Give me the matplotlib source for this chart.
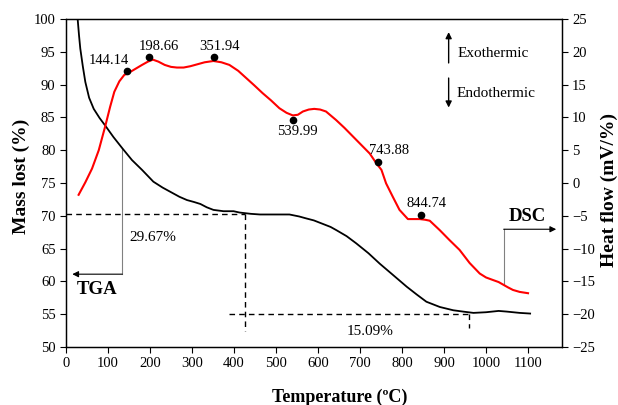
import numpy as np
import matplotlib.pyplot as plt

plt.rcParams['font.family'] = ['Liberation Serif', 'DejaVu Serif']

# TGA curve (left axis, mass %)
tga_temp = [26, 28, 31, 34, 40, 46, 55, 66, 80, 94, 113, 134, 157, 181, 208, 230, 250, 270, 288, 305,
            320, 335, 351, 375, 399, 413, 440, 462, 500, 532, 555, 572, 590, 610, 630, 644, 668,
            691, 720, 747, 780, 811, 835, 858, 890, 922, 945, 970, 1000, 1030, 1049, 1080, 1105]
tga_mass = [101.0, 99.8, 97.5, 95.5, 92.8, 90.4, 88.0, 86.3, 84.9, 83.7, 82.0, 80.3, 78.5, 77.0, 75.2, 74.3,
            73.6, 72.9, 72.4, 72.1, 71.8, 71.3, 70.9, 70.7, 70.7, 70.5, 70.3, 70.2, 70.2, 70.2, 69.9,
            69.6, 69.3, 68.8, 68.3, 67.8, 66.9, 65.8, 64.3, 62.7, 60.9, 59.2, 58.0, 56.9, 56.1, 55.6,
            55.4, 55.2, 55.3, 55.5, 55.4, 55.2, 55.1]

# DSC curve (right axis, heat flow)
dsc_temp = [30, 46, 62, 78, 94, 105, 115, 127, 139, 144, 160, 181, 195, 207, 220, 235, 250, 264, 280,
            296, 313, 330, 351, 370, 389, 410, 429, 448, 468, 488, 508, 525, 540, 552, 564, 578, 591,
            605, 619, 643, 663, 683, 703, 723, 739, 751, 762, 778, 794, 814, 828, 842, 855, 866,
            890, 913, 937, 961, 985, 1000, 1017, 1030, 1041, 1052, 1064, 1080, 1100]
dsc_heat = [-1.8, 0.1, 2.2, 5.0, 8.8, 11.6, 13.9, 15.5, 16.5, 16.6, 17.2, 18.0, 18.5, 18.8, 18.5, 18.0,
            17.7, 17.6, 17.6, 17.8, 18.1, 18.4, 18.6, 18.4, 18.0, 17.1, 16.0, 14.9, 13.7, 12.6, 11.4,
            10.7, 10.3, 10.4, 10.9, 11.2, 11.3, 11.2, 10.9, 9.6, 8.4, 7.1, 5.8, 4.5, 3.0, 2.0, -0.05,
            -2.1, -4.1, -5.5, -5.5, -5.5, -5.6, -5.75, -7.2, -8.7, -10.2, -12.2, -13.8, -14.4, -14.8,
            -15.1, -15.5, -15.9, -16.3, -16.6, -16.8]

# DSC peaks: marker position, label position
peak_labels = ['144.14', '198.66', '351.94', '539.99', '743.88', '844.74']
peak_t = [144.14, 198.66, 351.94, 539.99, 743.88, 844.74]
peak_h = [17.0, 19.2, 19.2, 9.6, 3.2, -4.9]
label_t = [101, 220, 365, 550, 768, 858]
label_h = [18.6, 20.8, 20.8, 7.9, 4.9, -3.2]

fig = plt.figure(figsize=(6.18, 4.05), dpi=100)
ax = fig.add_axes([0.1068, 0.1432, 0.802, 0.8099])
ax2 = ax.twinx()

ax.plot(tga_temp, tga_mass, color='black', lw=1.3, zorder=3)
ax2.plot(dsc_temp, dsc_heat, color='#ff0000', lw=1.5, zorder=3)
ax2.plot(peak_t, peak_h, 'o', color='black', ms=4.5, zorder=4)
for lab, lt, lh in zip(peak_labels, label_t, label_h):
    ax2.text(lt, lh, lab, fontsize=10.5, ha='center', va='center')

ax.set_xlim(0, 1180)
ax.set_ylim(50, 100)
ax2.set_ylim(-25, 25)
ax.set_xticks(np.arange(0, 1101, 100))
ax.set_yticks(np.arange(50, 101, 5))
ax2.set_yticks(np.arange(-25, 26, 5))

for a in (ax, ax2):
    a.tick_params(direction='out', length=4, width=0.8, labelsize=10.5)
    for s in a.spines.values():
        s.set_linewidth(0.9)

# dashed guide lines for mass loss steps
dash = dict(color='black', lw=1.0, ls=(0, (4, 3)))
ax.plot([0, 425], [70.2, 70.2], **dash)
ax.plot([425, 425], [70.2, 52.5], **dash)
ax.plot([387, 959], [55.1, 55.1], **dash)
ax.plot([959, 959], [55.1, 52.85], **dash)
ax.text(206, 66.7, '29.67%', fontsize=11, ha='center', va='center')
ax.text(724, 52.3, '15.09%', fontsize=11, ha='center', va='center')

# TGA / DSC pointers
ax.plot([134, 134], [80.3, 61.1], color='#808080', lw=0.8)
ax.annotate('', xy=(15, 61.1), xytext=(134, 61.1),
            arrowprops=dict(arrowstyle='-|>', color='black', lw=0.8, shrinkA=0, shrinkB=0,
                            mutation_scale=9))
ax.text(75, 58.8, 'TGA', fontsize=13.5, fontweight='bold', ha='center', va='center')

ax2.plot([1042, 1042], [-15.5, -7.05], color='#808080', lw=0.8)
ax2.annotate('', xy=(1167, -7.05), xytext=(1042, -7.05),
             arrowprops=dict(arrowstyle='-|>', color='black', lw=0.8, shrinkA=0, shrinkB=0,
                             mutation_scale=9))
ax2.text(1098, -5.1, 'DSC', fontsize=13.5, fontweight='bold', ha='center', va='center')

# exo / endo arrows
arr = dict(arrowstyle='-|>', color='black', lw=1.0, shrinkA=0, shrinkB=0, mutation_scale=9)
ax2.annotate('', xy=(911, 23.0), xytext=(911, 18.3), arrowprops=arr)
ax2.annotate('', xy=(911, 11.5), xytext=(911, 16.0), arrowprops=arr)
ax2.text(933, 19.8, 'Exothermic', fontsize=11, ha='left', va='center')
ax2.text(930, 13.6, 'Endothermic', fontsize=11, ha='left', va='center')

ax.set_ylabel('Mass lost (%)', fontsize=14, fontweight='bold', va='center')
ax.yaxis.set_label_coords(-0.09, 0.52)
ax2.set_ylabel('Heat flow (mV/%)', fontsize=14, fontweight='bold', va='center')
ax2.yaxis.set_label_coords(1.097, 0.48)
ax.set_xlabel('Temperature (\u00baC)', fontsize=13, fontweight='bold', va='center')
ax.xaxis.set_label_coords(0.553, -0.152)

fig.savefig('out.png', dpi=100)
